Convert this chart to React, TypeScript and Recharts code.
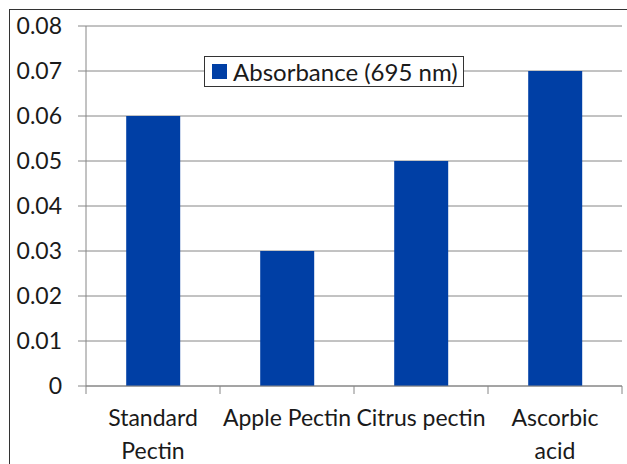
import React from 'react';
import { BarChart, Bar, XAxis, YAxis, CartesianGrid, Legend } from 'recharts';

const categories = ['Standard Pectin', 'Apple Pectin', 'Citrus pectin', 'Ascorbic acid'];
const categoryLines = [['Standard', 'Pectin'], ['Apple Pectin'], ['Citrus pectin'], ['Ascorbic', 'acid']];
const absorbance = [0.06, 0.03, 0.05, 0.07];
const yTicks = [0, 0.01, 0.02, 0.03, 0.04, 0.05, 0.06, 0.07, 0.08];
const seriesName = 'Absorbance (695 nm)';

const FONT = 'Lato, "Open Sans", sans-serif';
const TEXT = '#1a1a1a';
const GRID = '#868686';
const BLUE = '#003fa5';

const data = categories.map((name, i) => ({ name, value: absorbance[i] }));

// category ticks sit on the boundaries between bands, like Excel
const CategoryTick = (props: any) => {
  const { x, y, width, visibleTicksCount, index } = props;
  const band = width / visibleTicksCount;
  const top = y - 8;
  const lines = categoryLines[index] || [];
  return (
    <g>
      <line x1={x - band / 2} x2={x - band / 2} y1={top} y2={y} stroke={GRID} />
      {index === visibleTicksCount - 1 && (
        <line x1={x + band / 2} x2={x + band / 2} y1={top} y2={y} stroke={GRID} />
      )}
      <text x={x} y={y + 32} textAnchor="middle" fill={TEXT} style={{ fontFamily: FONT, fontSize: 23 }}>
        {lines.map((l, i) => (
          <tspan key={l} x={x} dy={i === 0 ? 0 : 33}>
            {l}
          </tspan>
        ))}
      </text>
    </g>
  );
};

const LegendBox = () => (
  <div
    style={{
      display: 'inline-flex',
      alignItems: 'center',
      border: '1px solid #333',
      background: '#fff',
      padding: '1px 5px 1px 7px',
      fontFamily: FONT,
      fontSize: 24,
      color: TEXT,
      whiteSpace: 'nowrap',
      lineHeight: '27px',
    }}
  >
    <span style={{ width: 15, height: 15, background: BLUE, marginRight: 6, display: 'inline-block' }} />
    {seriesName}
  </div>
);

export default function App() {
  return (
    <div style={{ position: 'absolute', left: 0, top: 0, width: 627, height: 464, overflow: 'hidden', background: '#fff' }}>
      <div
        style={{
          position: 'absolute',
          left: 9,
          top: 9,
          width: 700,
          height: 600,
          border: '1.5px solid #333',
        }}
      />
      <BarChart
        width={627}
        height={464}
        data={data}
        margin={{ top: 26, right: 5, bottom: 8, left: 8 }}
        barCategoryGap="30%"
      >
        <CartesianGrid vertical={false} stroke={GRID} />
        <XAxis
          dataKey="name"
          height={70}
          interval={0}
          tickLine={false}
          tickSize={8}
          tickMargin={0}
          axisLine={{ stroke: GRID }}
          tick={<CategoryTick />}
        />
        <YAxis
          width={78}
          domain={[0, 0.08]}
          ticks={yTicks}
          interval={0}
          tickSize={8}
          tickMargin={16}
          axisLine={{ stroke: GRID }}
          tickLine={{ stroke: GRID }}
          tick={{ fill: TEXT, fontFamily: FONT, fontSize: 23 }}
        />
        <Legend
          layout="horizontal"
          verticalAlign="middle"
          align="center"
          content={<LegendBox />}
          wrapperStyle={{ position: 'absolute', left: 204, top: 56, width: 'auto' }}
        />
        <Bar dataKey="value" name={seriesName} fill={BLUE} isAnimationActive={false} />
      </BarChart>
    </div>
  );
}
